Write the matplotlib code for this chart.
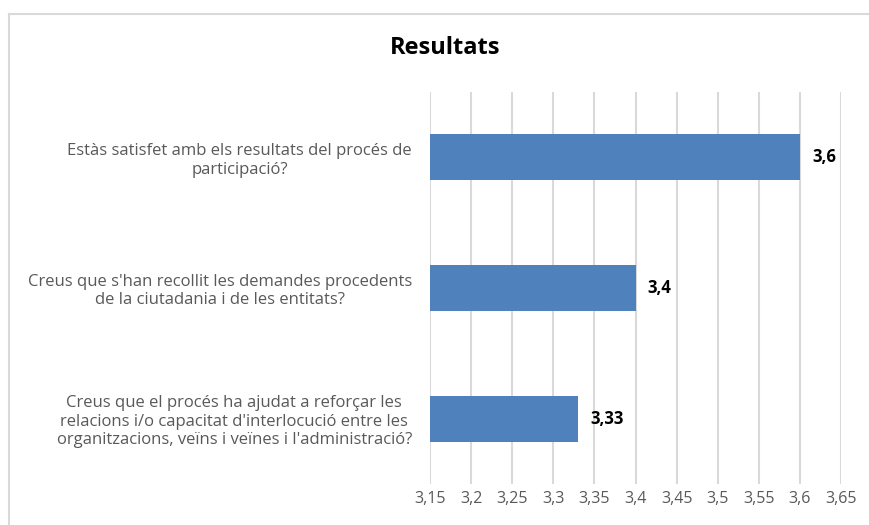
import matplotlib
matplotlib.use("Agg")
from matplotlib import pyplot as plt
from matplotlib.lines import Line2D

# data
questions = [
    "Estàs satisfet amb els resultats del procés de\nparticipació?",
    "Creus que s'han recollit les demandes procedents\nde la ciutadania i de les entitats?",
    "Creus que el procés ha ajudat a reforçar les\nrelacions i/o capacitat d'interlocució entre les\norganitzacions, veïns i veïnes i l'administració?",
]
values = [3.6, 3.4, 3.33]
value_labels = ["3,6", "3,4", "3,33"]
xticks = [3.15, 3.2, 3.25, 3.3, 3.35, 3.4, 3.45, 3.5, 3.55, 3.6, 3.65]
xtick_labels = ["3,15", "3,2", "3,25", "3,3", "3,35", "3,4", "3,45", "3,5", "3,55", "3,6", "3,65"]

W, H = 869, 525
fig = plt.figure(figsize=(W / 100, H / 100), dpi=100)
ax = fig.add_axes([430 / W, 1 - 484 / H, (841 - 430) / W, (484 - 92) / H])

ypos = list(range(len(values)))
ax.barh(ypos, [v - 3.15 for v in values], left=3.15, height=0.35,
        color="#4F81BD", zorder=3)
ax.set_xlim(3.15, 3.65)
ax.set_ylim(2.5, -0.5)

ax.set_xticks(xticks)
ax.set_xticklabels(xtick_labels, color="#595959", fontsize=11.5, family="Open Sans")
ax.tick_params(axis="x", length=0, pad=5)
ax.set_yticks(ypos)
ax.set_yticklabels(questions, color="#595959", fontsize=12, family="Open Sans",
                   multialignment="center")
ax.tick_params(axis="y", length=0, pad=13)

ax.grid(axis="x", color="#D9D9D9", linewidth=1.5, zorder=0)
for s in ax.spines.values():
    s.set_visible(False)

for y, v, lab in zip(ypos, values, value_labels):
    ax.text(v + 0.015, y, lab, va="center", ha="left", fontsize=12,
            fontweight="bold", color="#000000", family="Open Sans")

fig.text(445 / W, 1 - 48 / H, "Resultats", ha="center", va="center",
         fontsize=17, fontweight="bold", family="Open Sans")

# chart border
fig.add_artist(Line2D([9 / W, 1], [1 - 14 / H, 1 - 14 / H], color="#D9D9D9", linewidth=1.5))
fig.add_artist(Line2D([9 / W, 9 / W], [0, 1 - 14 / H], color="#D9D9D9", linewidth=1.5))

fig.savefig("out.png", dpi=100)
